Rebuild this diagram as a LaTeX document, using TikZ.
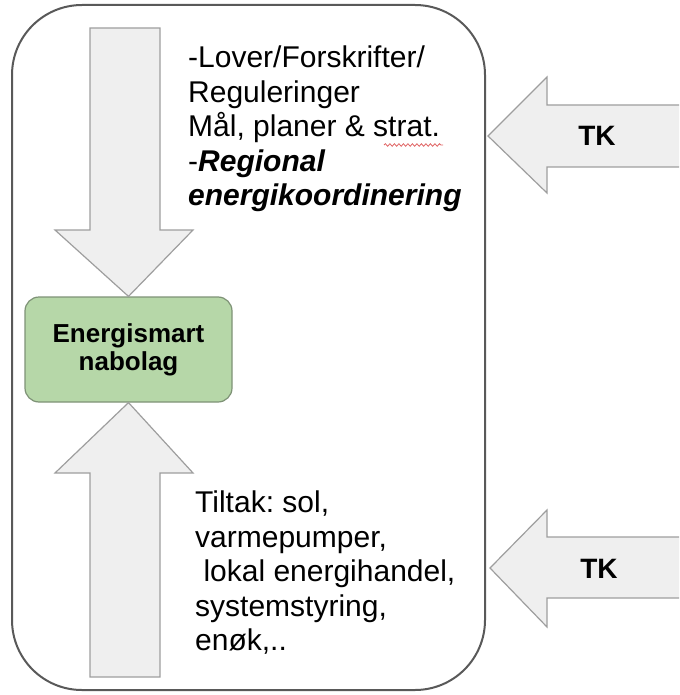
\documentclass[tikz,border=0pt]{standalone}
\usepackage{fontspec}
\setmainfont{Liberation Sans}
\usepackage{tikz}
\usetikzlibrary{decorations.pathmorphing}
\definecolor{framegray}{HTML}{595959}
\definecolor{arrowgray}{HTML}{9E9E9E}
\definecolor{arrowfill}{HTML}{EFEFEF}
\definecolor{boxgreen}{HTML}{B6D7A8}
\definecolor{boxedge}{HTML}{7E9276}
\definecolor{spellred}{HTML}{E06666}
\frenchspacing
\tikzset{bigarrow/.style={draw=arrowgray,fill=arrowfill,line width=1.2pt,line join=miter}}
\tikzset{bodytext/.style={inner sep=0pt,align=left,anchor=north west,
    font=\fontsize{30}{34.5}\selectfont}}
\tikzset{tklabel/.style={inner sep=0pt,font=\fontsize{28}{30}\selectfont\bfseries}}

\begin{document}
\begin{tikzpicture}[x=1pt,y=-1pt]
                \clip (0,0) rectangle (679,695);
                
                % Frame
                \draw[framegray,line width=2pt,rounded corners=70pt] (12,5) rectangle (485,690);
                
                % Neighbourhood
                \node[draw=boxedge,fill=boxgreen,line width=1.2pt,rounded corners=14pt,
                      minimum width=207pt,minimum height=105pt,align=center,
                      font=\fontsize{26}{28}\selectfont\bfseries] (nbh) at (128.5,349.5)
                      {Energismart\\nabolag};
                
                % Down and up
                \draw[bigarrow] (90,28) -- (160,28) -- (160,230) -- (193,230) -- (nbh.north)
                      -- (55,230) -- (90,230) -- cycle;
                \draw[bigarrow] (90,677) -- (160,677) -- (160,473) -- (193,473) -- (nbh.south)
                      -- (55,473) -- (90,473) -- cycle;
                
                % TK arrows
                \draw[bigarrow] (690,105) -- (547,105) -- (547,77) -- (488,136) -- (547,193)
                      -- (547,167) -- (690,167);
                \draw[bigarrow] (690,537) -- (547,537) -- (547,510) -- (490,568) -- (547,627)
                      -- (547,598) -- (690,598);
                \node[tklabel] (tktop) at (597,136) {TK};
                \node[tklabel] (tkbottom) at (599,569) {TK};
                
                % Labels
                \node[bodytext] (rules) at (188,46) {-Lover/Forskrifter/\\Reguleringer\\
                      Mål, planer \& strat.\\-\textbf{\textit{Regional}}\\
                      \textbf{\textit{energikoordinering}}};
                \node[bodytext] (measures) at (195,491) {Tiltak: sol,\\varmepumper,\\
                      \ lokal energihandel,\\systemstyring,\\enøk,..};
                
                % Spell check
                \draw[spellred,line width=0.8pt,decorate,
                      decoration={snake,amplitude=1.3pt,segment length=4.5pt}] (384,145) -- (443,145);
            \end{tikzpicture}
\end{document}
